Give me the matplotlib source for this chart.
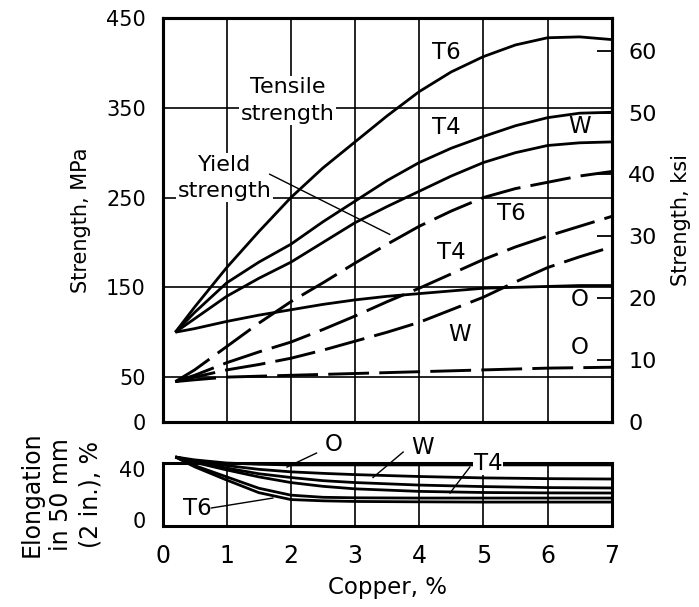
import matplotlib.pyplot as plt

plt.rcParams['font.family'] = ['DejaVu Sans']
narrow = ['Liberation Sans Narrow', 'DejaVu Sans Condensed', 'DejaVu Sans']

# copper content, %
copper = [0.2, 0.5, 1.0, 1.5, 2.0, 2.5, 3.0, 3.5, 4.0, 4.5, 5.0, 5.5, 6.0, 6.5, 7.0]

# tensile strength, MPa
tensile_T6 = [100, 128, 172, 212, 250, 283, 312, 341, 368, 390, 407, 420, 428, 429, 426]
tensile_T4 = [100, 122, 155, 178, 198, 223, 246, 269, 289, 305, 318, 330, 339, 344, 345]
tensile_W = [100, 115, 140, 160, 178, 200, 222, 240, 257, 274, 289, 300, 308, 311, 312]
tensile_O = [100, 104, 112, 119, 125, 131, 136, 140, 143, 146, 149, 150, 151, 152, 152]

# yield strength, MPa
yield_T6 = [45, 58, 84, 110, 134, 155, 177, 198, 218, 235, 250, 260, 267, 274, 279]
yield_T4 = [45, 52, 66, 78, 89, 103, 118, 134, 149, 165, 181, 195, 207, 218, 229]
yield_W = [45, 50, 58, 64, 71, 80, 90, 100, 111, 125, 139, 156, 172, 184, 195]
yield_O = [45, 47, 50, 51, 52, 53, 54, 55, 56, 57, 58, 59, 60, 60.5, 61]

# elongation in 50 mm, %
elong_cu = [0.2, 0.5, 1.0, 1.5, 2.0, 2.5, 3.0, 4.0, 5.0, 6.0, 7.0]
elong_O = [49.8, 47.5, 45.0, 44.0, 43.5, 43.5, 43.5, 43.5, 43.5, 43.5, 43.5]
elong_W = [49.8, 46.5, 43.0, 40.0, 38.0, 36.8, 35.8, 34.3, 33.2, 32.6, 32.3]
elong_T4a = [49.8, 46.0, 41.0, 36.5, 33.5, 31.0, 29.5, 27.5, 26.3, 25.5, 25.2]
elong_T4b = [49.8, 45.5, 39.5, 34.0, 29.5, 26.5, 24.5, 22.5, 21.6, 21.3, 21.2]
elong_T6a = [49.8, 43.0, 34.0, 25.0, 19.5, 17.8, 17.4, 17.2, 17.2, 17.2, 17.2]
elong_T6b = [49.8, 42.0, 31.5, 21.5, 16.0, 15.0, 14.5, 14.2, 14.0, 14.0, 14.0]

MPA_PER_KSI = 6.895

fig = plt.figure(figsize=(6.99, 6.07), dpi=100)
ax = fig.add_axes([0.2325, 0.3048, 0.6426, 0.6655])
ax2 = fig.add_axes([0.2325, 0.1334, 0.6426, 0.1038])

line_kw = dict(color='black', lw=2.0, solid_capstyle='butt', zorder=4)
dash_kw = dict(color='black', lw=2.1, dashes=(14, 3.5), dash_capstyle='butt', zorder=4)

# strength panel
for vals in (tensile_T6, tensile_T4, tensile_W, tensile_O):
    ax.plot(copper, vals, **line_kw)
for vals in (yield_T6, yield_T4, yield_W, yield_O):
    ax.plot(copper, vals, **dash_kw)

ax.set_xlim(0, 7)
ax.set_ylim(0, 450)
ax.set_xticks(range(8))
ax.set_yticks([0, 50, 150, 250, 350, 450])
ax.set_axisbelow(True)
ax.grid(True, color='black', lw=1.2)
ax.tick_params(axis='x', length=0, labelbottom=False)
ax.tick_params(axis='y', length=0, pad=12, labelsize=15)
for s in ax.spines.values():
    s.set_linewidth(2.2)
ax.set_ylabel('Strength, MPa', fontsize=15, labelpad=11)

axr = ax.twinx()
axr.set_ylim(0, 450 / MPA_PER_KSI)
axr.set_yticks(range(0, 70, 10))
axr.tick_params(axis='y', direction='in', length=11, width=1.3, pad=12, labelsize=16)
axr.set_ylabel('Strength, ksi', fontsize=15, labelpad=10)
for s in axr.spines.values():
    s.set_linewidth(2.2)

lab_kw = dict(fontsize=16.5, ha='center', va='center', zorder=5)
ax.text(4.43, 412, 'T6', **lab_kw)
ax.text(4.43, 328, 'T4', **lab_kw)
ax.text(6.5, 329, 'W', **lab_kw)
ax.text(5.44, 232, 'T6', **lab_kw)
ax.text(4.5, 189, 'T4', **lab_kw)
ax.text(6.5, 137, 'O', **lab_kw)
ax.text(4.63, 98, 'W', **lab_kw)
ax.text(6.5, 83, 'O', **lab_kw)

box = dict(facecolor='white', edgecolor='none', pad=1)
ax.text(1.95, 358, 'Tensile\nstrength', fontsize=16, ha='center', va='center',
        linespacing=1.4, bbox=box, zorder=3)
ax.text(0.97, 272, 'Yield\nstrength', fontsize=16, ha='center', va='center',
        linespacing=1.4, bbox=box, zorder=3)
ax.plot([1.67, 3.54], [276, 209], color='black', lw=1.0, zorder=3)

# elongation panel
for vals in (elong_O, elong_W, elong_T4a, elong_T4b, elong_T6a, elong_T6b):
    ax2.plot(elong_cu, vals, clip_on=False, **line_kw)

ax2.set_xlim(0, 7)
ax2.set_ylim(-5, 45)
ax2.set_xticks(range(8))
ax2.set_yticks([0, 40])
ax2.set_axisbelow(True)
ax2.grid(True, axis='x', color='black', lw=1.2)
ax2.tick_params(axis='x', length=0, pad=13, labelsize=17)
ax2.tick_params(axis='y', length=0, pad=12, labelsize=15)
for s in ax2.spines.values():
    s.set_linewidth(2.2)
ax2.set_xlabel('Copper, %', fontsize=16.5, labelpad=6)
ax2.set_ylabel('Elongation\nin 50 mm\n(2 in.), %', fontsize=17, linespacing=1.3, labelpad=12)

for t in ax.get_yticklabels() + axr.get_yticklabels() + ax2.get_xticklabels() + ax2.get_yticklabels():
    t.set_fontfamily(narrow)

lead = dict(color='black', lw=1.0, clip_on=False, zorder=6)
ax2.text(2.66, 59.3, 'O', clip_on=False, **lab_kw)
ax2.plot([2.4, 1.94], [52.9, 41.8], **lead)
ax2.text(4.06, 57.7, 'W', clip_on=False, **lab_kw)
ax2.plot([3.75, 3.28], [53.7, 33.5], **lead)
ax2.text(5.07, 45, 'T4', fontsize=16.5, ha='center', va='center', zorder=10,
         bbox=dict(facecolor='white', edgecolor='none', pad=0.5), clip_on=False)
ax2.plot([4.79, 4.48], [41.8, 21.2], **lead)
ax2.text(0.54, 9.3, 'T6', fontsize=16.5, ha='center', va='center', zorder=6)
ax2.plot([0.76, 1.72], [9.3, 17.2], **lead)

fig.savefig('out.png', dpi=100)
